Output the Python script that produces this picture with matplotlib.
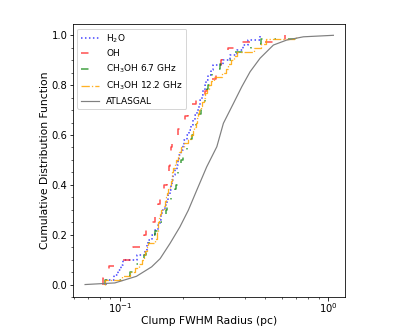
import matplotlib
matplotlib.use("Agg")
import matplotlib.pyplot as plt
import numpy as np
from matplotlib.ticker import MultipleLocator

# clump radii (pc) of each maser sample
h2o_radius = [
    0.086, 0.094, 0.098, 0.101, 0.104, 0.121, 0.132, 0.135, 0.137, 0.143,
    0.148, 0.152, 0.155, 0.157, 0.160, 0.165, 0.168, 0.171, 0.173, 0.175,
    0.178, 0.180, 0.184, 0.187, 0.190, 0.193, 0.197, 0.200, 0.204, 0.209,
    0.215, 0.220, 0.225, 0.230, 0.235, 0.240, 0.243, 0.247, 0.251, 0.255,
    0.259, 0.266, 0.275, 0.280, 0.312, 0.338, 0.365, 0.390, 0.410, 0.470,
]
oh_radius = [
    0.083, 0.084, 0.089, 0.101, 0.114, 0.116, 0.128, 0.130, 0.133, 0.140,
    0.147, 0.149, 0.153, 0.156, 0.159, 0.163, 0.168, 0.170, 0.172, 0.173,
    0.175, 0.176, 0.178, 0.184, 0.191, 0.199, 0.205, 0.212, 0.222, 0.232,
    0.255, 0.261, 0.263, 0.290, 0.303, 0.305, 0.310, 0.330, 0.370, 0.620,
]
ch3oh67_radius = [
    0.0845, 0.104, 0.112, 0.115, 0.118, 0.125, 0.130, 0.133, 0.135, 0.138,
    0.141, 0.144, 0.147, 0.150, 0.158, 0.163, 0.166, 0.167, 0.169, 0.172,
    0.176, 0.179, 0.183, 0.186, 0.188, 0.190, 0.191, 0.192, 0.194, 0.197,
    0.200, 0.203, 0.210, 0.215, 0.219, 0.222, 0.225, 0.229, 0.233, 0.237,
    0.241, 0.244, 0.248, 0.252, 0.256, 0.259, 0.262, 0.265, 0.269, 0.272,
    0.277, 0.290, 0.303, 0.325, 0.342, 0.355, 0.395, 0.425, 0.475, 0.700,
]
ch3oh122_radius = [
    0.0845, 0.102, 0.112, 0.118, 0.124, 0.128, 0.130, 0.132, 0.135, 0.137,
    0.148, 0.150, 0.151, 0.152, 0.153, 0.154, 0.155, 0.158, 0.162, 0.165,
    0.167, 0.169, 0.171, 0.173, 0.175, 0.177, 0.178, 0.180, 0.183, 0.186,
    0.190, 0.193, 0.197, 0.202, 0.212, 0.219, 0.224, 0.228, 0.232, 0.235,
    0.238, 0.241, 0.245, 0.249, 0.252, 0.256, 0.262, 0.267, 0.275, 0.284,
    0.310, 0.322, 0.331, 0.340, 0.352, 0.365, 0.440, 0.475, 0.505, 0.700,
]

# ATLASGAL cumulative curve (radius, fraction)
atlas_radius = [0.068, 0.0946, 0.120, 0.142, 0.156, 0.174, 0.194, 0.213, 0.234, 0.261,
                0.292, 0.314, 0.351, 0.385, 0.422, 0.471, 0.546, 0.633, 0.761, 1.06]
atlas_cdf = [0.0, 0.0065, 0.033, 0.071, 0.104, 0.165, 0.231, 0.298, 0.379, 0.472,
             0.553, 0.647, 0.727, 0.794, 0.854, 0.908, 0.961, 0.981, 0.994, 1.0]

fig = plt.figure(figsize=(407 / 72, 330 / 72), dpi=72)
ax = fig.add_axes([0.179, 0.1, 0.669, 0.827])

ax.ecdf(h2o_radius, color="b", linestyle=":", linewidth=1.5, alpha=0.75, label="H$_2$O")
ax.ecdf(oh_radius, color="r", linestyle=(0, (5, 10)), linewidth=1.5, alpha=0.7, label="OH")
ax.ecdf(ch3oh67_radius, color="g", linestyle=(0, (5, 8, 1, 8)), linewidth=1.5, alpha=0.75,
        label="CH$_3$OH 6.7 GHz")
ax.ecdf(ch3oh122_radius, color="orange", linestyle="-.", linewidth=1.3, alpha=0.85,
        label="CH$_3$OH 12.2 GHz")
ax.plot(atlas_radius, atlas_cdf, color="gray", linewidth=1.2, label="ATLASGAL")

ax.set_xscale("log")
ax.set_xlim(0.0594, 1.207)
ax.set_ylim(-0.05, 1.045)
ax.yaxis.set_minor_locator(MultipleLocator(0.05))
ax.tick_params(axis="both", which="major", labelsize=10)
ax.tick_params(axis="x", which="both", pad=1)
ax.tick_params(axis="y", which="both", pad=2)
ax.set_xlabel("Clump FWHM Radius (pc)", fontsize=10.8, labelpad=1)
ax.set_ylabel("Cumulative Distribution Function", fontsize=10.8, labelpad=1)
ax.legend(loc="upper left", fontsize=9)

fig.savefig("out.png", dpi=72)
plt.close(fig)
